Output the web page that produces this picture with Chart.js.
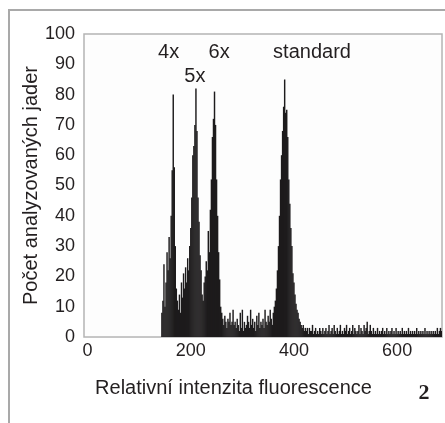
<!DOCTYPE html>
<html><head><meta charset="utf-8">
<script src="https://cdn.jsdelivr.net/npm/chart.js@4.4.1/dist/chart.umd.min.js"></script>
<style>html,body{margin:0;padding:0;background:#fff;}#wrap{width:445px;height:423px;position:relative;}</style>
</head><body><div id="wrap"><canvas id="c" width="445" height="423"></canvas></div>
<script>
// Histogram channels: first channel and channel width (relative fluorescence units)
const binStart = 144;
const binStep = 2;
// Number of analysed nuclei per channel
const counts = [
  8,12,24,10,18,28,22,33,26,40,55,80,56,30,16,12,9,14,8,18,
  13,21,16,23,18,26,22,30,36,46,60,63,70,82,68,46,38,27,22,14,
  12,18,20,25,22,35,28,42,52,66,72,81,70,52,40,28,19,10,8,6,
  4,7,5,3,6,5,8,4,5,9,4,5,3,6,4,2,8,3,9,2,
  5,3,4,7,5,3,9,4,6,3,5,2,7,4,8,3,5,4,6,3,
  9,5,4,7,5,9,6,4,8,10,12,16,22,30,40,52,60,68,76,85,
  74,75,66,52,44,36,30,21,18,14,11,9,8,6,5,4,3,4,2,3,
  2,3,1,3,2,2,4,1,2,3,1,2,1,3,2,1,3,1,2,3,
  1,2,4,1,2,3,1,4,2,1,3,1,2,4,1,2,1,3,2,4,
  1,2,3,1,2,4,1,3,2,1,2,4,1,3,2,1,4,2,3,5,
  1,2,4,2,1,3,1,2,1,3,1,2,1,2,3,1,2,1,3,1,
  2,1,2,3,1,2,1,3,1,2,1,2,1,3,1,2,1,2,1,3,
  1,2,1,2,1,2,1,3,1,2,1,2,1,2,1,3,1,2,1,2,
  1,2,1,2,1,2,1,3,1,2,3,2
];
const xTicks = [0, 200, 400, 600];
const yTickStep = 10;
const xTitle = 'Relativní intenzita fluorescence';
const yTitle = 'Počet analyzovaných jader';
const peakLabels = ['4x', '5x', '6x', 'standard'];
const peakLabelX = [157, 208, 255, 435];
const peakLabelY = [94, 86, 94, 94];
const figureNumber = '2';

const FAM = '"Liberation Sans", Arial, Helvetica, sans-serif';
const TXT = '#231f20';

const points = counts.map((v, i) => ({ x: binStart + i * binStep, y: v }));

const decor = {
  id: 'decor',
  beforeDraw(chart) {
    const c = chart.ctx;
    c.save(); c.fillStyle = '#fff'; c.fillRect(0, 0, chart.width, chart.height); c.restore();
  },
  beforeDatasetsDraw(chart) {
    const c = chart.ctx, a = chart.chartArea;
    c.save();
    c.fillStyle = '#fdfdfd';
    c.fillRect(a.left, a.top, a.right - a.left, a.bottom - a.top);
    c.strokeStyle = '#b4b4b4';
    c.lineWidth = 1.5;
    c.strokeRect(a.left, a.top, a.right - a.left, a.bottom - a.top);
    c.restore();
  },
  afterDraw(chart) {
    const c = chart.ctx, xs = chart.scales.x, ys = chart.scales.y;
    c.save();
    c.strokeStyle = '#a9a9a9';
    c.lineWidth = 2;
    c.beginPath();
    c.moveTo(9, 423); c.lineTo(9, 10); c.lineTo(445, 10);
    c.stroke();
    c.fillStyle = TXT;
    c.font = '20px ' + FAM;
    c.textAlign = 'center';
    c.textBaseline = 'middle';
    peakLabels.forEach((t, i) => {
      c.fillText(t, xs.getPixelForValue(peakLabelX[i]), ys.getPixelForValue(peakLabelY[i]));
    });
    c.fillText(xTitle, 233.5, 388);
    c.font = 'bold 22px "Liberation Serif", "DejaVu Serif", serif';
    c.fillText(figureNumber, 424, 393);
    c.restore();
  }
};

new Chart(document.getElementById('c'), {
  type: 'bar',
  data: { datasets: [{
    label: yTitle,
    data: points,
    backgroundColor: '#1d1b1c',
    borderWidth: 0,
    barPercentage: 1.4,
    categoryPercentage: 1,
    grouped: false
  }]},
  options: {
    responsive: false,
    animation: false,
    devicePixelRatio: 1,
    layout: { padding: { left: 0, top: 34, right: 3, bottom: 0 } },
    plugins: { legend: { display: false }, tooltip: { enabled: false } },
    scales: {
      x: {
        type: 'linear',
        offset: false,
        min: -7, max: 687,
        afterBuildTicks: s => { s.ticks = xTicks.map(v => ({ value: v })); },
        afterFit: s => { s.height = 86; },
        grid: { display: false, drawTicks: false, offset: false },
        border: { display: false },
        ticks: { padding: 3, font: { size: 18, family: FAM }, color: TXT, maxRotation: 0, autoSkip: false }
      },
      y: {
        min: 0, max: 100,
        afterFit: s => { s.width = 84; },
        grid: { display: false, drawTicks: false },
        border: { display: false },
        ticks: { stepSize: yTickStep, padding: 9, font: { size: 18, family: FAM }, color: TXT },
        title: { display: true, text: yTitle, font: { size: 20, family: FAM }, color: TXT, padding: { top: 19, bottom: 0 } }
      }
    }
  },
  plugins: [decor]
});
</script></body></html>
